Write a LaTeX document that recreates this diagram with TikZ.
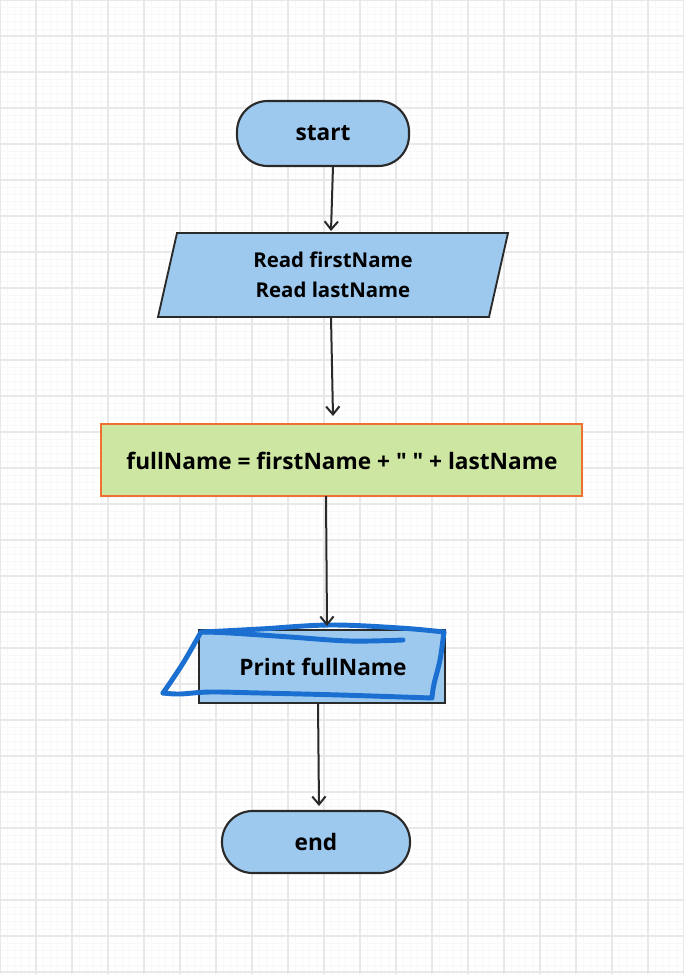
\documentclass[tikz,border=0pt]{standalone}
\usepackage{fontspec}
\setmainfont{Open Sans}[Ligatures=TeXOff]
\usetikzlibrary{arrows.meta,shapes.geometric}
\definecolor{boxblue}{HTML}{9DC9EF}
\definecolor{boxline}{HTML}{2A2A2A}
\definecolor{boxgreen}{HTML}{CDE6A1}
\definecolor{boxorange}{HTML}{F07030}
\definecolor{penblue}{HTML}{1A6FD1}
\definecolor{gridmajor}{HTML}{E8E8E8}
\definecolor{gridminor}{HTML}{F8F8F8}
\tikzset{
  terminal/.style={draw=boxline, fill=boxblue, line width=1.6pt, rounded corners=23pt},
  iobox/.style={draw=boxline, fill=boxblue, line width=1.4pt},
  procbox/.style={draw=boxorange, fill=boxgreen, line width=1.5pt},
  flow/.style={draw=boxline, line width=1.5pt, -{Straight Barb[length=6pt,width=10pt,line width=1.5pt]}},
  lbl/.style={font=\bfseries\fontsize{17}{21}\selectfont, text=black, align=center},
  lblsmall/.style={font=\bfseries\fontsize{15.3}{22.5}\selectfont, text=black, align=center},
  pen/.style={draw=penblue, line width=3.7pt, line cap=round, line join=round}
}
\begin{document}
\begin{tikzpicture}[x=0.75pt, y=-0.75pt]
\fill[white] (0,0) rectangle (684,974);
\useasboundingbox (0,0) rectangle (684,974);
% minor grid
\foreach \i in {0,...,95} {\draw[gridminor, line width=0.4pt] (\i*7.2,0) -- (\i*7.2,974);}
\foreach \i in {0,...,135} {\draw[gridminor, line width=0.4pt] (0,\i*7.2) -- (684,\i*7.2);}
% major grid
\foreach \i in {0,...,19} {\draw[gridmajor, line width=1.3pt] (\i*36,0) -- (\i*36,974);}
\foreach \i in {0,...,27} {\draw[gridmajor, line width=1.3pt] (0,\i*36) -- (684,\i*36);}

% start
\path[terminal] (237,101) rectangle (409,166);
\node[lbl] (start) at (323,133.5) {start};
\coordinate (startb) at (333,166);
% read parallelogram
\path[iobox] (177,233) -- (508,233) -- (489,317) -- (158,317) -- cycle;
\node[lblsmall] (read) at (333,275) {Read firstName\\Read lastName};
\coordinate (readt) at (331,231);
\coordinate (readb) at (331,317);
% process
\path[procbox] (101,424) rectangle (582,496);
\node[lbl] (proc) at (342,461) {fullName = firstName + " " + lastName};
\coordinate (proct) at (333,416);
\coordinate (procb) at (326,496);
% print
\path[iobox] (199,630) rectangle (445,703);
\node[lbl] (print) at (323,667) {Print fullName};
\coordinate (printt) at (327,626);
\coordinate (printb) at (318,703);
% pen scribble
\draw[pen] plot[smooth, tension=0.6] coordinates {(403,640) (350,641) (290,637) (230,633) (203,632)};
\draw[pen] plot[smooth, tension=0.6] coordinates {(203,632) (260,629) (330,625) (400,628) (444,632)};
\draw[pen] plot[smooth, tension=0.5] coordinates {(444,632) (440,660) (434,684) (432,697)};
\draw[pen] plot[smooth, tension=0.5] coordinates {(201,632) (185,660) (172,680) (163,693)};
\draw[pen] plot[smooth, tension=0.6] coordinates {(163,693) (180,694) (210,692) (260,693) (340,695) (432,698)};
% end
\path[terminal] (222,811) rectangle (410,873);
\node[lbl] (end) at (316,842) {end};
\coordinate (endt) at (319,806);
% connectors
\draw[flow] (startb) -- (readt);
\draw[flow] (readb) -- (proct);
\draw[flow] (procb) -- (printt);
\draw[flow] (printb) -- (endt);
\end{tikzpicture}
\end{document}
